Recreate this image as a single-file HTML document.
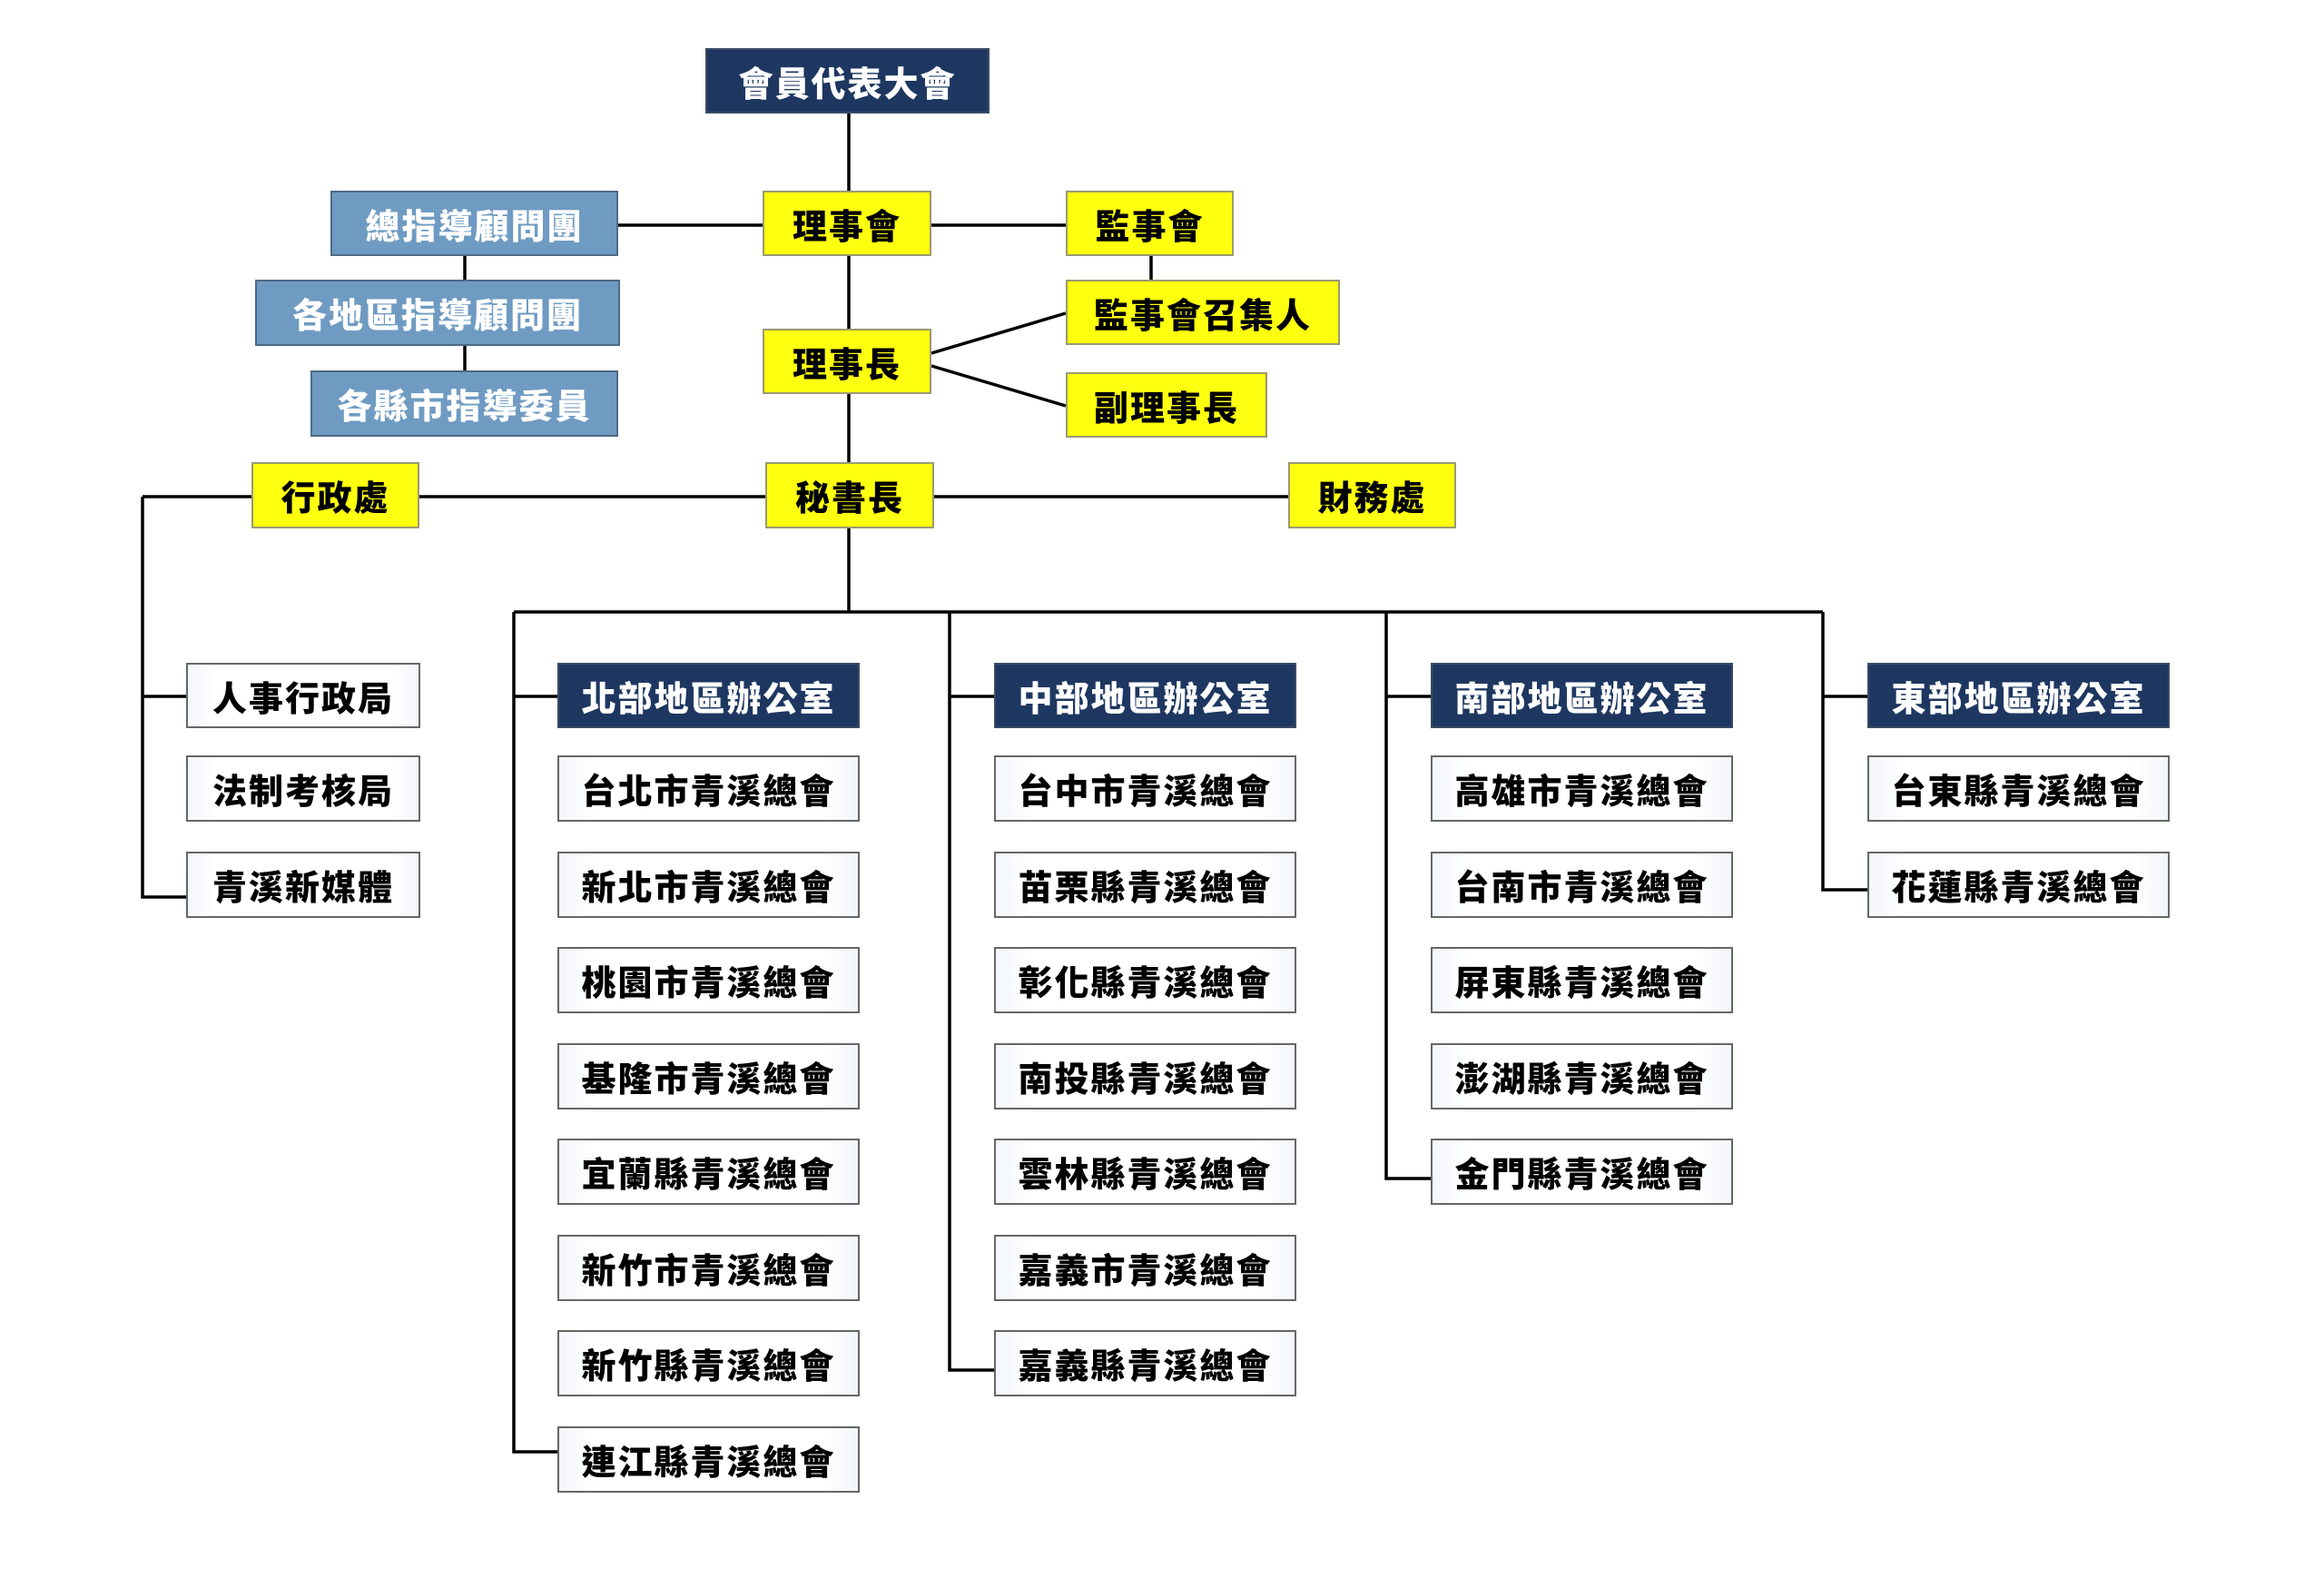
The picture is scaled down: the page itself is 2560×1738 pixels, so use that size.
<!DOCTYPE html>
<html><head><meta charset="utf-8"><style>
html,body{margin:0;padding:0;background:#fff;}
#c{position:relative;width:2560px;height:1738px;overflow:hidden;background:#fff;}
.b{position:absolute;box-sizing:border-box;display:flex;align-items:center;justify-content:center;font-family:"Liberation Sans","Noto Sans CJK TC",sans-serif;font-weight:900;font-size:38px;letter-spacing:2px;white-space:nowrap;}
.n{background:#1e3761;color:#fff;border:2px solid #3a4a66;}
.s{background:#6f9bc2;color:#fff;border:2px solid #4e6a88;}
.y{background:#ffff10;color:#000;border:2px solid #9a9a70;}
.w{background:linear-gradient(90deg,#f2f6fb 0%,#fff 12%,#fff 88%,#f2f6fb 100%);color:#000;border:2px solid #666;}
svg{position:absolute;left:0;top:0;}
</style></head><body><div id="c">
<svg width="2560" height="1738" stroke="#000" stroke-width="3.5" fill="none">
<line x1="935" y1="125" x2="935" y2="674"/>
<line x1="681" y1="248" x2="1174" y2="248"/>
<line x1="512" y1="282" x2="512" y2="408"/>
<line x1="1268" y1="282" x2="1268" y2="308"/>
<line x1="1026" y1="389" x2="1174" y2="345"/>
<line x1="1026" y1="403" x2="1174" y2="447"/>
<line x1="157" y1="547" x2="1419" y2="547"/>
<polyline points="157,547 157,988 205,988"/>
<line x1="157" y1="767" x2="205" y2="767"/>
<line x1="566" y1="674" x2="2008" y2="674"/>
<polyline points="566,674 566,1599 614,1599"/>
<line x1="566" y1="767" x2="614" y2="767"/>
<polyline points="1046,674 1046,1509 1095,1509"/>
<line x1="1046" y1="767" x2="1095" y2="767"/>
<polyline points="1527,674 1527,1298 1576,1298"/>
<line x1="1527" y1="767" x2="1576" y2="767"/>
<polyline points="2008,674 2008,980 2057,980"/>
<line x1="2008" y1="767" x2="2057" y2="767"/>
</svg>
<div class="b n" style="left:777px;top:53px;width:313px;height:72px;">會員代表大會</div>
<div class="b s" style="left:364px;top:210px;width:317px;height:72px;">總指導顧問團</div>
<div class="b s" style="left:281px;top:308px;width:402px;height:73px;">各地區指導顧問團</div>
<div class="b s" style="left:342px;top:408px;width:339px;height:73px;">各縣市指導委員</div>
<div class="b y" style="left:840px;top:210px;width:186px;height:72px;">理事會</div>
<div class="b y" style="left:840px;top:362px;width:186px;height:72px;">理事長</div>
<div class="b y" style="left:843px;top:509px;width:186px;height:73px;">秘書長</div>
<div class="b y" style="left:277px;top:509px;width:185px;height:73px;">行政處</div>
<div class="b y" style="left:1419px;top:509px;width:185px;height:73px;">財務處</div>
<div class="b y" style="left:1174px;top:210px;width:185px;height:72px;">監事會</div>
<div class="b y" style="left:1174px;top:308px;width:302px;height:72px;">監事會召集人</div>
<div class="b y" style="left:1174px;top:410px;width:222px;height:72px;">副理事長</div>
<div class="b w" style="left:205px;top:730px;width:258px;height:72px;">人事行政局</div>
<div class="b w" style="left:205px;top:832px;width:258px;height:73px;">法制考核局</div>
<div class="b w" style="left:205px;top:938px;width:258px;height:73px;">青溪新媒體</div>

<div class="b n" style="left:614px;top:730px;width:333px;height:72px;">北部地區辦公室</div>
<div class="b w" style="left:614px;top:832px;width:333px;height:73px;">台北市青溪總會</div>
<div class="b w" style="left:614px;top:938px;width:333px;height:73px;">新北市青溪總會</div>
<div class="b w" style="left:614px;top:1043px;width:333px;height:73px;">桃園市青溪總會</div>
<div class="b w" style="left:614px;top:1149px;width:333px;height:73px;">基隆市青溪總會</div>
<div class="b w" style="left:614px;top:1254px;width:333px;height:73px;">宜蘭縣青溪總會</div>
<div class="b w" style="left:614px;top:1360px;width:333px;height:73px;">新竹市青溪總會</div>
<div class="b w" style="left:614px;top:1465px;width:333px;height:73px;">新竹縣青溪總會</div>
<div class="b w" style="left:614px;top:1571px;width:333px;height:73px;">連江縣青溪總會</div>

<div class="b n" style="left:1095px;top:730px;width:333px;height:72px;">中部地區辦公室</div>
<div class="b w" style="left:1095px;top:832px;width:333px;height:73px;">台中市青溪總會</div>
<div class="b w" style="left:1095px;top:938px;width:333px;height:73px;">苗栗縣青溪總會</div>
<div class="b w" style="left:1095px;top:1043px;width:333px;height:73px;">彰化縣青溪總會</div>
<div class="b w" style="left:1095px;top:1149px;width:333px;height:73px;">南投縣青溪總會</div>
<div class="b w" style="left:1095px;top:1254px;width:333px;height:73px;">雲林縣青溪總會</div>
<div class="b w" style="left:1095px;top:1360px;width:333px;height:73px;">嘉義市青溪總會</div>
<div class="b w" style="left:1095px;top:1465px;width:333px;height:73px;">嘉義縣青溪總會</div>

<div class="b n" style="left:1576px;top:730px;width:333px;height:72px;">南部地區辦公室</div>
<div class="b w" style="left:1576px;top:832px;width:333px;height:73px;">高雄市青溪總會</div>
<div class="b w" style="left:1576px;top:938px;width:333px;height:73px;">台南市青溪總會</div>
<div class="b w" style="left:1576px;top:1043px;width:333px;height:73px;">屏東縣青溪總會</div>
<div class="b w" style="left:1576px;top:1149px;width:333px;height:73px;">澎湖縣青溪總會</div>
<div class="b w" style="left:1576px;top:1254px;width:333px;height:73px;">金門縣青溪總會</div>

<div class="b n" style="left:2057px;top:730px;width:333px;height:72px;">東部地區辦公室</div>
<div class="b w" style="left:2057px;top:832px;width:333px;height:73px;">台東縣青溪總會</div>
<div class="b w" style="left:2057px;top:938px;width:333px;height:73px;">花蓮縣青溪總會</div>
</div></body></html>
